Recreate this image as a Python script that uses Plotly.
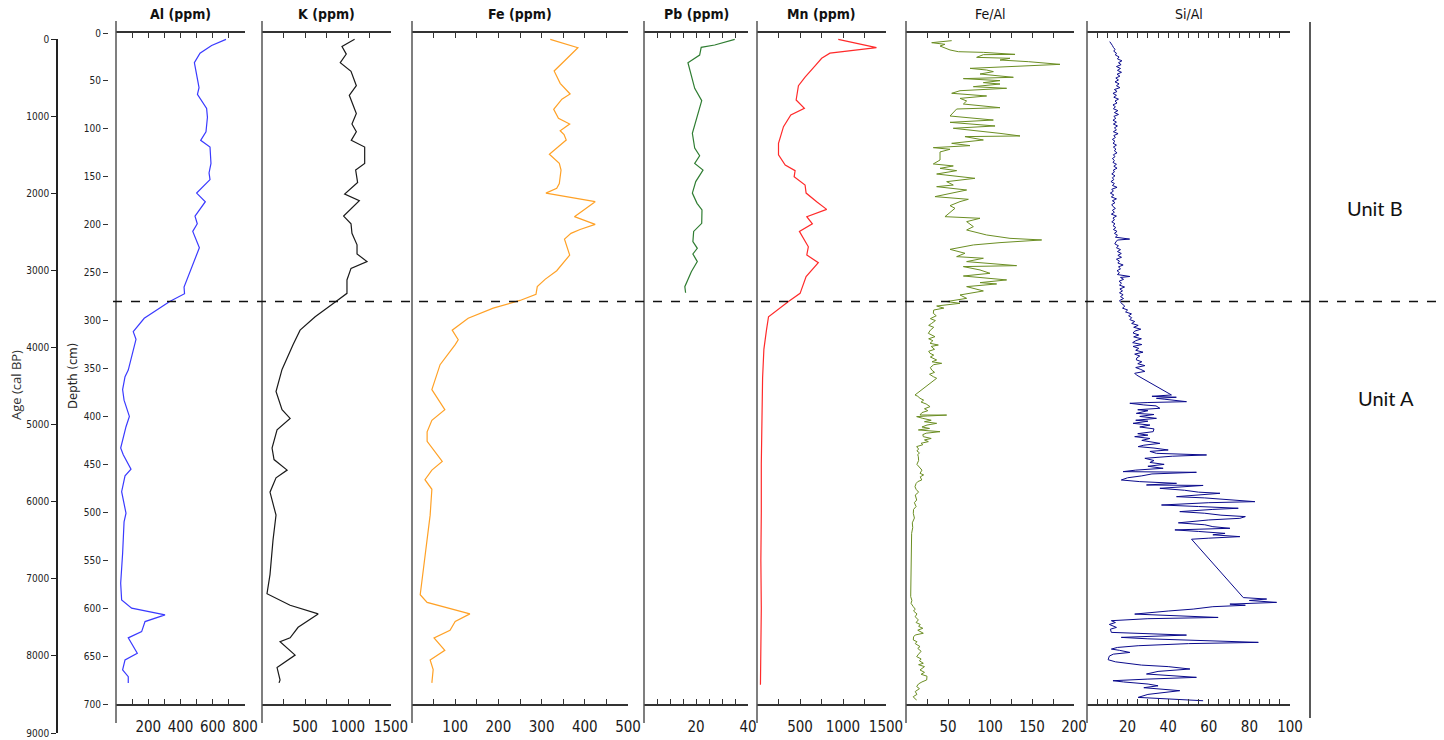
import plotly.graph_objects as go

W, H = 1444, 740

# ---------------- data (depth in cm, values per proxy) ----------------
AL_DEPTH = [6.6, 13, 21, 31, 49, 57, 64, 78.6, 88, 103, 112, 119, 136, 146, 153,
            167, 176, 191, 199, 207, 224, 265, 272, 280, 297.6, 311.6, 319.6, 337.7,
            351.6, 358.5, 372, 383, 400, 410.7, 433, 440, 455, 462, 478.5, 501, 510,
            543, 574, 591.5, 600, 607, 614, 624.5, 631, 647, 654, 664.5, 671.5, 678]
AL_PPM = [682, 593, 521, 486, 506, 515, 505, 562, 567, 558, 525, 583, 589, 577, 583,
          500, 554, 490, 504, 476, 517, 422, 425, 333, 175, 107, 124, 97,
          76, 56, 41, 50, 83, 62, 29, 45, 93, 56, 35, 62, 50,
          41, 29, 35, 97, 304, 180, 159, 76, 132, 56, 41, 76, 76]

K_DEPTH = [6.6, 14, 22, 31, 40, 55, 65, 84, 95, 103, 112, 119, 136, 143, 156,
           168, 175, 191, 199, 209, 221, 230.5, 238.5, 245.5, 257.6, 271.6, 280, 296,
           310, 325, 351, 374, 393, 402, 414, 433, 445, 456, 464, 479, 503, 529,
           565, 585, 597, 606, 620, 631, 635, 649, 662, 675, 678]
K_PPM = [1077, 930, 980, 910, 1035, 1097, 1015, 1097, 1046, 1097, 1038, 1194, 1194, 1089, 1112,
         961, 1132, 949, 1035, 1046, 1105, 1105, 1221, 1035, 988, 988, 860, 618,
         443, 362, 233, 163, 233, 327, 175, 117, 140, 292, 163, 93, 163, 128,
         93, 58, 327, 653, 420, 327, 210, 385, 175, 210, 198]

FE_DEPTH = [6.6, 15.3, 30, 39.6, 52.5, 63.6, 69, 79.6, 89, 95, 102, 106, 111.6, 126.5, 136,
            143, 157, 162, 167, 176, 191.6, 199.6, 205, 209, 215, 231.6, 248, 257, 264.6,
            272.6, 279, 287, 297.6, 310, 320, 325, 346, 372, 393, 404, 416, 426, 447, 456,
            466, 476, 503, 545, 586, 594, 606, 614, 623, 631, 644, 654, 664, 678]
FE_PPM = [320, 384, 351, 329, 343, 366, 347, 328, 339, 365, 343, 352, 357, 318, 341,
          345, 341, 335, 310, 424, 376, 424, 389, 368, 353, 365, 335, 308, 290,
          287, 250, 188, 130, 93, 107, 100, 65, 46, 76, 46, 35, 35, 70, 46,
          30, 46, 42, 30, 19, 35, 134, 100, 88, 51, 76, 42, 49, 46]

PB_DEPTH = [6.6, 12.5, 15, 23, 31, 57.7, 70.6, 89, 104.6, 120, 128, 136, 143, 155, 167,
            177.7, 184.6, 198.6, 207, 217.7, 224.6, 230.5, 238.5, 249, 264.6, 271]
PB_PPM = [34.9, 27.2, 22, 21.4, 16.9, 19.5, 22.2, 20.1, 18.6, 19.5, 21.4, 19.5, 22.7, 19.9, 18.6,
          20.4, 22.3, 22.2, 19.1, 18.8, 20.5, 18.8, 20.5, 18.2, 15.7, 16]

MN_DEPTH = [6.6, 15.3, 21, 26.4, 34.4, 46, 55, 69.9, 78.6, 85.5, 97.7, 115, 127, 137.7, 143.6,
            150, 158.6, 167, 176, 184, 191.6, 199, 207, 223, 231.6, 239.6, 254, 271.6, 280, 296,
            310, 330, 360, 400, 450, 500, 550, 600, 650, 680]
MN_PPM = [945, 1389, 848, 752, 675, 559, 482, 455, 551, 393, 308, 250, 250, 328, 443,
          432, 559, 571, 694, 810, 579, 644, 493, 597, 579, 713, 571, 501, 366, 134,
          110, 80, 65, 55, 50, 50, 45, 50, 45, 40]

# high-resolution ratio profiles, (depth cm, ratio)
FEAL_PROFILE = [
    (8.0, 54.4), (10.1, 30.6), (11.8, 46.4), (13.6, 40.5), (17.7, 52.4), (19.5, 62.3),
    (20.2, 92.1), (21.2, 111.9), (22.3, 129.8), (22.6, 92.1), (25.4, 84.1), (26.4, 123.8),
    (28.2, 111.9), (29.9, 145.6), (31.6, 167.5), (32.7, 183.3), (34.1, 147.6), (36.9, 76.2),
    (38.6, 96), (40.3, 104), (42.8, 88.1), (46.2, 127.8), (47.6, 68.3), (49.7, 111.9),
    (51.8, 92.1), (53.2, 111.9), (56, 80.2), (57.7, 119.8), (60.2, 64.3), (62.9, 54.4),
    (65.7, 96), (68.2, 64.3), (70.9, 72.2), (74.1, 68.3), (77.9, 111.9), (79.3, 60.3),
    (86.6, 52.4), (88.3, 72.2), (90.8, 104), (93.2, 52.4), (96, 92.1), (97, 106),
    (99.4, 56.3), (102.2, 88.1), (104.7, 111.9), (107.4, 135.7), (108.1, 70.2), (111.6, 92.1),
    (115.1, 54.4), (117.5, 76.2), (119.6, 32.5), (121.3, 52.4), (124.1, 40.5), (132.5, 40.5),
    (136.6, 32.5), (138.7, 56.3), (141.2, 40.5), (143.6, 60.3), (147.1, 36.5), (151.6, 82.1),
    (155.1, 48.4), (158.6, 56.3), (160.3, 36.5), (163.8, 72.2), (170.7, 34.5), (173.5, 74.2),
    (175.9, 64.3), (180.1, 52.4), (182.9, 58.3), (191.6, 46.4), (193.3, 88.1), (196.8, 72.2),
    (202, 80.2), (205.5, 72.2), (210.7, 96), (214.2, 123.8), (215.9, 161.5), (218.7, 111.9),
    (221.1, 80.2), (225.7, 52.4), (229.8, 70.2), (233.3, 60.3), (235, 92.1), (238.5, 72.2),
    (242, 115.9), (242.7, 131.7), (243.7, 68.3), (247.2, 88.1), (250.7, 100), (253.5, 68.3),
    (257.6, 119.8), (260.4, 88.1), (261.8, 107.9), (264.6, 72.2), (269.1, 92.1), (273.3, 64.3),
    (276.8, 72.2), (280.2, 48.4), (282, 64.3), (284.8, 36.5), (287, 45), (289, 33),
    (292.4, 32.5), (295, 36), (298, 29), (300, 35), (302.9, 30.6), (305, 27), (307, 33),
    (310, 29), (313.3, 26.6), (315, 31), (316.8, 34.5), (319, 27), (321, 32), (323.7, 28.6),
    (325.5, 38.5), (327, 30), (330, 34), (332, 27), (334.2, 28.6), (336, 33), (338, 29),
    (341.1, 36.5), (343, 31), (344.6, 42.5), (346, 33), (349, 29), (351.6, 30.6), (354, 34),
    (356, 28), (358.5, 32.5), (360.2, 36.5), (377.6, 10.7), (379, 14), (381.1, 16.7),
    (383, 21), (385, 18), (387, 24), (389.8, 28.6), (392, 22), (394, 26), (396, 19),
    (398.5, 16.7), (398.6, 48.4), (399.5, 26), (400.2, 12.7), (402, 20), (404, 30),
    (405.5, 22), (407.2, 36.5), (409, 25), (411, 19), (412.5, 28), (414.1, 14.7),
    (415.9, 40.5), (417.5, 24), (419, 20), (421.1, 20.6), (423, 30), (424.5, 22),
    (426.3, 26.6), (428, 18), (429.5, 20), (431.5, 12.7), (434, 15), (436, 13), (438, 16),
    (440, 14), (442, 14.7), (446, 15), (450, 13), (453, 16), (456, 19), (459.4, 16.7),
    (461, 21), (463, 17), (466.3, 18.7), (468, 14), (470, 12), (473.3, 10.7), (476, 12),
    (479, 15), (482, 11), (487.2, 12.7), (490, 10), (494, 12), (497, 9), (501.1, 8.7),
    (506, 10), (511, 7.5), (516, 8), (522, 6.7), (530, 6.5), (540, 6), (556.7, 5.6),
    (570, 5.8), (588, 5.6), (592, 7), (595, 6), (598.5, 8.7), (601, 11), (603, 9),
    (606, 13), (609, 11), (612.3, 14.7), (615, 12), (617, 17), (619, 15), (621, 20),
    (623, 14), (626.2, 20.6), (628, 11), (630, 9), (633.2, 8.7), (635, 13), (637, 11),
    (640.1, 16.7), (642, 14), (645, 18), (648, 15), (650.6, 12.7), (653, 18), (655, 16),
    (657.5, 20.6), (659, 15), (661, 22), (663, 18), (664.5, 16.7), (667, 22), (669, 18),
    (671, 25), (674.9, 24.6), (677, 19), (679, 15), (681.8, 12.7), (684, 16), (687, 11),
    (690, 13), (692.3, 8.7), (694, 10), (695.8, 12.7),
]

SIAL_PROFILE = [
    (9, 11.2), (11, 12.0), (13, 12.5), (15, 13.0), (17, 13.8), (19, 13.2), (21, 14.5),
    (23, 14.0), (25, 15.8), (27, 15.0), (29, 17.2), (31, 15.5), (33, 16.8), (35, 14.5),
    (37, 16.5), (39, 15.0), (41, 17.0), (43, 14.8), (45, 16.2), (47, 14.2), (49, 15.5),
    (51, 13.8), (53, 15.8), (55, 14.5), (57, 16.2), (59, 13.5), (61, 14.8), (63, 12.8),
    (65, 14.5), (67, 13.2), (69, 15.5), (71, 13.8), (73, 14.8), (75, 12.8), (77, 14.0),
    (79, 13.0), (81, 15.2), (83, 13.5), (85, 15.5), (87, 13.2), (89, 14.2), (91, 12.8),
    (93, 14.5), (95, 13.0), (97, 15.0), (99, 13.5), (101, 14.5), (103, 13.0), (105, 15.3),
    (107, 13.2), (109, 14.0), (111, 12.5), (113, 13.8), (115, 12.8), (117, 14.5), (119, 13.0),
    (121, 14.2), (123, 13.5), (125, 14.8), (127, 13.0), (129, 13.8), (131, 12.5), (133, 13.5),
    (135, 12.8), (137, 14.5), (139, 13.2), (141, 14.8), (143, 13.0), (145, 13.5), (147, 12.2),
    (149, 13.8), (151, 12.5), (153, 13.2), (155, 11.8), (157, 13.5), (159, 12.5), (161, 14.8),
    (163, 12.2), (165, 13.0), (167, 11.5), (169, 13.2), (171, 12.0), (173, 14.5), (175, 12.5),
    (177, 13.8), (179, 12.2), (181, 12.8), (183, 14.0), (185, 12.5), (187, 13.5), (189, 12.0),
    (191, 14.5), (193, 12.8), (195, 13.5), (197, 12.2), (199, 13.8), (201, 12.8), (203, 14.2),
    (205, 13.0), (207, 14.8), (209, 13.5), (211, 15.0), (213, 14.0), (215, 21.0), (216, 15.0),
    (218, 14.2), (220, 13.7), (222, 15.5), (224, 14.5), (226, 16.5), (228, 15.0), (230, 16.9),
    (232, 15.2), (234, 17.0), (236, 14.5), (238, 16.0), (240, 15.2), (242, 17.8), (244, 15.5),
    (246, 16.5), (248, 14.8), (250, 16.0), (252, 15.0), (254, 21.1), (255, 16.5), (257, 18.0),
    (259, 15.8), (261, 17.0), (263, 16.0), (265, 18.5), (267, 16.2), (269, 17.5), (271, 16.0),
    (273, 17.8), (275, 16.5), (277, 18.0), (279, 16.1), (281, 16.5), (283, 17.8), (285, 18.6),
    (287, 17.5), (289, 20.0), (291, 19.0), (293, 21.9), (295, 20.5), (297, 22.0), (299, 21.1),
    (301, 23.5), (303, 22.0), (305, 25.2), (307, 23.0), (309, 26.5), (311, 23.5), (313, 22.7),
    (315, 25.5), (317, 23.0), (319, 26.8), (321, 24.0), (323, 22.5), (325, 27.0), (327, 22.7),
    (329, 25.5), (331, 24.0), (333, 27.6), (335, 23.5), (337, 26.0), (339, 24.5), (341, 24.3),
    (343, 27.0), (345, 25.0), (347, 28.5), (349, 24.0), (351, 26.5), (353, 28.5), (355, 23.5),
    (356.7, 24.3), (377.6, 41.6), (379, 32.0), (380, 44.0), (381.1, 34.2), (382, 38),
    (384.6, 49), (385.5, 30), (386.3, 21.1), (388, 28), (389, 34), (391.5, 35.9), (393, 25),
    (394, 30), (396.8, 24.3), (398, 33), (400, 26), (402, 34.2), (404, 24), (405, 30),
    (407.2, 22.7), (409, 31), (411, 26), (413, 33), (415.9, 32.6), (418, 25), (419.5, 30),
    (421.1, 23.5), (423, 31), (425, 27), (428.1, 35.9), (430, 28), (431.5, 25.2), (433, 33),
    (435, 40), (436.5, 31), (438.5, 34.2), (440.2, 58.9), (441.5, 42), (443.7, 28.5),
    (446, 33), (448, 31), (450, 38), (452, 30), (454.1, 37.5), (456, 24), (457.6, 17.8),
    (458.3, 53.9), (460, 32), (462, 27), (464, 20), (466.3, 16.9), (468, 26), (469.8, 44.1),
    (471.5, 29.3), (472, 57.2), (474, 42), (475, 35.9), (477, 48), (479, 55), (480.2, 65.5),
    (482, 52), (483.7, 44.1), (485, 58), (487, 70), (488.9, 82.7), (490, 60), (492.4, 36.7),
    (494, 55), (495.8, 74.5), (497, 62), (499.3, 45.7), (501, 58), (503, 66), (504.5, 78),
    (506.3, 75.3), (508, 60), (509.7, 50.7), (511, 45), (513, 58), (515, 62), (516.7, 70.4),
    (518.4, 43.3), (520, 55), (522, 68), (523.5, 62), (525.4, 75.3), (527, 60), (528.1, 51.5),
    (589, 77), (590.5, 88.5), (592, 80), (594, 93.4), (595.8, 70.4), (597, 78), (598.5, 62),
    (601, 52.3), (603, 40), (606.2, 23.5), (609.7, 64.6), (611, 30), (613.1, 12), (615, 14),
    (617, 11), (620.1, 14.5), (622, 11.5), (625.3, 12), (628.1, 49), (630.5, 16.9), (632, 30),
    (635.7, 84.4), (637, 50), (639.2, 25.2), (641, 15), (642.7, 12), (644, 16), (646.2, 21.1),
    (648, 13), (650, 11), (653.8, 10.4), (656, 14), (659.4, 26.8), (661, 40), (663.5, 50.7),
    (666, 35), (668.7, 29.3), (670, 40), (672.2, 53.9), (674, 30), (675.7, 12.8), (677, 18),
    (679.2, 30.1), (681, 35), (683, 28), (686.1, 45.7), (688, 38), (690, 30), (693.1, 25.2),
    (695, 40), (696.6, 57.2),
]

FEAL_DEPTH = [d for d, _ in FEAL_PROFILE]
FEAL_RATIO = [v for _, v in FEAL_PROFILE]
SIAL_DEPTH = [d for d, _ in SIAL_PROFILE]
SIAL_RATIO = [v for _, v in SIAL_PROFILE]

AGE_TICKS = list(range(0, 9001, 1000))
DEPTH_TICKS = list(range(0, 701, 50))
UNIT_BOUNDARY_DEPTH = 280

# panel definitions: title, data, colour, pixel extent, axis range, tick step, labelled ticks, bold title
PANELS = [
    ("Al (ppm)", AL_DEPTH, AL_PPM, "#3a3aff", (116, 245), (0, 800), 100, [200, 400, 600, 800], True),
    ("K (ppm)", K_DEPTH, K_PPM, "#1a1a1a", (262, 391), (0, 1500), 250, [500, 1000, 1500], True),
    ("Fe (ppm)", FE_DEPTH, FE_PPM, "#ffa126", (412, 628), (0, 500), 50, [100, 200, 300, 400, 500], True),
    ("Pb (ppm)", PB_DEPTH, PB_PPM, "#2f7d32", (644, 748), (0, 40), 5, [20, 40], True),
    ("Mn (ppm)", MN_DEPTH, MN_PPM, "#ff2a2a", (757, 886), (0, 1500), 250, [500, 1000, 1500], True),
    ("Fe/Al", FEAL_DEPTH, FEAL_RATIO, "#6b8e23", (906, 1074), (0, 200), 25, [50, 100, 150, 200], False),
    ("Si/Al", SIAL_DEPTH, SIAL_RATIO, "#0a0a8c", (1087, 1290), (0, 100), 5, [20, 40, 60, 80, 100], False),
]

NARROW = "DejaVu Sans Condensed, Liberation Sans Narrow, Arial Narrow, Roboto, sans-serif"


def fx(px):
    return px / W


def fy(py):
    return 1 - py / H


Y_TOP, Y_BOT = 33, 704
fig = go.Figure()
layout = dict(
    width=W, height=H, margin=dict(l=0, r=0, t=0, b=0, autoexpand=False),
    paper_bgcolor="white", plot_bgcolor="rgba(0,0,0,0)", showlegend=False,
    yaxis=dict(domain=[fy(Y_BOT), fy(Y_TOP)], range=[700, 0], anchor="free",
               position=fx(108), showline=False, showgrid=False, zeroline=False,
               ticks="outside", ticklen=5, tickwidth=1, tickcolor="#333",
               tickvals=DEPTH_TICKS, ticktext=[str(v) for v in DEPTH_TICKS],
               tickfont=dict(family=NARROW, size=10, color="#222")),
    yaxis2=dict(domain=[fy(733), fy(39)], range=[9000, 0], anchor="free",
                position=fx(57), showline=True, linecolor="#222", linewidth=1.5,
                showgrid=False, zeroline=False, ticks="outside", ticklen=5,
                tickcolor="#222", tickvals=AGE_TICKS, ticktext=[str(v) for v in AGE_TICKS],
                tickfont=dict(family=NARROW, size=10, color="#222")),
)

shapes = []
annotations = []
for i, (title, dep, val, col, (x0, x1), rng, step, labelled, bold) in enumerate(PANELS):
    ax = "x" if i == 0 else f"x{i + 1}"
    key = "xaxis" if i == 0 else f"xaxis{i + 1}"
    tv = []
    v = rng[0]
    while v <= rng[1] + 1e-9:
        tv.append(v)
        v += step
    tt = [str(int(t)) if t in labelled else "" for t in tv]
    layout[key] = dict(domain=[fx(x0), fx(x1)], range=list(rng), anchor="y",
                       showline=True, linecolor="#333", linewidth=1.5, mirror="ticks",
                       showgrid=False, zeroline=False, ticks="inside", ticklen=5,
                       tickcolor="#333", tickvals=tv, ticktext=tt, ticklabelstandoff=8,
                       tickfont=dict(family=NARROW, size=15, color="#1a1a1a"))
    lw = 1.0 if i >= 5 else 1.2
    fig.add_trace(go.Scatter(x=val, y=dep, xaxis=ax, yaxis="y", mode="lines",
                             line=dict(color=col, width=lw), hoverinfo="skip"))
    # panel spine
    shapes.append(dict(type="line", xref="paper", yref="paper", x0=fx(x0), x1=fx(x0),
                       y0=fy(21), y1=fy(723), line=dict(color="#555", width=1.5)))
    label = f"<b>{title}</b>" if bold else title
    annotations.append(dict(text=label, xref="paper", yref="paper", x=fx((x0 + x1) / 2),
                            y=fy(14), showarrow=False, xanchor="center", yanchor="middle",
                            font=dict(family=NARROW, size=14, color="#111")))

# age axis carrier
fig.add_trace(go.Scatter(x=[None], y=[None], xaxis="x", yaxis="y2", mode="lines",
                         hoverinfo="skip"))

# right frame line
shapes.append(dict(type="line", xref="paper", yref="paper", x0=fx(1310), x1=fx(1310),
                   y0=fy(22), y1=fy(718), line=dict(color="#222", width=1.5)))
# unit boundary
shapes.append(dict(type="line", xref="paper", yref="y", x0=fx(113), x1=fx(1442),
                   y0=UNIT_BOUNDARY_DEPTH, y1=UNIT_BOUNDARY_DEPTH,
                   line=dict(color="#111", width=1.5, dash="dash")))

annotations += [
    dict(text="Age (cal BP)", xref="paper", yref="paper", x=fx(16), y=fy(385),
         xanchor="center", yanchor="middle", textangle=-90, showarrow=False,
         font=dict(family="Open Sans, sans-serif", size=13, color="#333")),
    dict(text="Depth (cm)", xref="paper", yref="paper", x=fx(72), y=fy(376),
         xanchor="center", yanchor="middle", textangle=-90, showarrow=False,
         font=dict(family=NARROW, size=13, color="#222")),
    dict(text="Unit B", xref="paper", yref="paper", x=fx(1375), y=fy(208),
         xanchor="center", yanchor="middle", showarrow=False,
         font=dict(family="Lato, sans-serif", size=20, color="#111")),
    dict(text="Unit A", xref="paper", yref="paper", x=fx(1386), y=fy(398),
         xanchor="center", yanchor="middle", showarrow=False,
         font=dict(family="Lato, sans-serif", size=20, color="#111")),
]

layout["shapes"] = shapes
layout["annotations"] = annotations
fig.update_layout(**layout)
fig.write_html("out.html")
